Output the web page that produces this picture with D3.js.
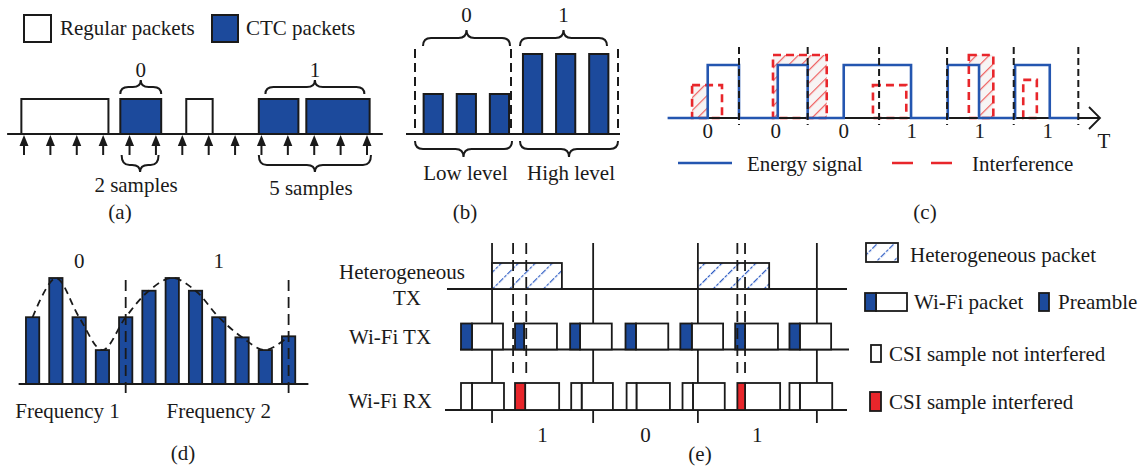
<!DOCTYPE html>
<html>
<head>
<meta charset="utf-8">
<script src="https://cdn.jsdelivr.net/npm/d3@7"></script>
<style>
  html, body { margin: 0; padding: 0; background: #fff; }
  svg { display: block; font-family: "Liberation Serif", "Times New Roman", serif; }
</style>
</head>
<body>
<div id="chart"></div>
<script>
// ---------- data ----------
// (a) packets on the sampling axis, in sample intervals
const aRegular = [[-0.1, 3.2], [6.15, 7.15]];
const aCtc = [[3.65, 5.2], [8.9, 10.4], [10.7, 13.1]];
const aSamples = [0, 1, 2, 3, 4, 5, 6, 7, 8, 9, 10, 11, 12, 13];
const aBitBraces = [["0", 3.65, 5.2], ["1", 9.15, 12.9]];
const aSampleBraces = [["2 samples", 3.7, 5.1], ["5 samples", 8.9, 13.15]];

// (b) energy levels of the CTC packets
const bLevels = [0.5, 0.5, 0.5, 1, 1, 1];
const bBits = ["0", "1"];
const bLevelNames = ["Low level", "High level"];

// (c) energy signal, slots and interference (time in slots)
const cBits = ["0", "0", "0", "1", "1", "1"];
const cSlotEdges = [1, 2.01, 3.06, 4.06, 5.04, 5.99];
const cPulses = [[0.54, 1.0], [1.57, 2.01], [2.54, 3.53], [4.07, 4.53], [5.06, 5.57]];
const cInterf = [[0.31, 0.75, 0.62], [1.5, 2.29, 1.19], [2.97, 3.46, 0.62], [4.38, 4.74, 1.19], [5.18, 5.38, 0.72]];

// (d) subcarrier amplitudes
const dAmps = [6.3, 10, 6.3, 3.2, 6.3, 8.8, 10, 8.8, 6.3, 4.4, 3.2, 4.5];
const dBounds = [4, 11];
const dBits = [["0", 2], ["1", 8]];
const dFreqs = [["Frequency 1", 1.5], ["Frequency 2", 8]];

// (e) timing (unit = Wi-Fi packet period)
const eRows = ["Heterogeneous TX", "Wi-Fi TX", "Wi-Fi RX"];
const eHetero = [[0.566, 1.84], [4.32, 5.62]];
const eBoundaries = [0.566, 2.41, 4.32, 6.49];
const eBits = ["1", "0", "1"];
const eDashPairs = [[0.95, 1.19], [5.04, 5.18]];
const eTxStart = [0, 0.985, 1.99, 3.0, 4.0, 5.0, 5.99];
const eTxPre = [0.2, 1.15, 2.17, 3.19, 4.21, 5.18, 6.18];
const eTxEnd = [0.766, 1.75, 2.75, 3.78, 4.78, 5.78, 6.75];
const eRxStart = [0, 0.985, 2.01, 3.02, 4.04, 5.04, 5.99];
const eRxCsi = [0.2, 1.17, 2.2, 3.2, 4.23, 5.18, 6.18];
const eRxEnd = [0.784, 1.79, 2.77, 3.81, 4.81, 5.82, 6.77];
const eInterfered = [false, true, false, false, false, true, false];

// ---------- drawing ----------
const W = 1145, H = 468;
const BLUE = "#1c4a9c", RED = "#e8262b", INK = "#1a1a1a", LINEBLUE = "#2456b0";
const FS = 21;

const svg = d3.select("#chart").append("svg")
  .attr("width", W).attr("height", H)
  .attr("viewBox", [0, 0, W, H]);

const defs = svg.append("defs");
const hr = defs.append("pattern").attr("id", "hatchRed")
  .attr("patternUnits", "userSpaceOnUse").attr("width", 9).attr("height", 9)
  .attr("patternTransform", "rotate(45)");
hr.append("rect").attr("width", 9).attr("height", 9).attr("fill", "#f7f4f4");
hr.append("line").attr("x1", 0).attr("y1", 0).attr("x2", 0).attr("y2", 9)
  .attr("stroke", "#ef5f5f").attr("stroke-width", 2.4);
const hb = defs.append("pattern").attr("id", "hatchBlue")
  .attr("patternUnits", "userSpaceOnUse").attr("width", 12).attr("height", 12)
  .attr("patternTransform", "rotate(45)");
hb.append("rect").attr("width", 12).attr("height", 12).attr("fill", "#fff");
hb.append("line").attr("x1", 0).attr("y1", 0).attr("x2", 0).attr("y2", 12)
  .attr("stroke", "#2d5cc4").attr("stroke-width", 2.4).attr("stroke-dasharray", "3,1.5");

// curly brace; dir -1 = tip up, +1 = tip down
function brace(x1, x2, y0, dir, h, t) {
  const ym = y0 + dir * h, tip = ym + dir * t, mid = (x1 + x2) / 2;
  const r = Math.min(8, (x2 - x1) / 4);
  return `M${x1},${y0} Q${x1},${ym} ${x1 + r},${ym} L${mid - r},${ym} Q${mid},${ym} ${mid},${tip}` +
    ` Q${mid},${ym} ${mid + r},${ym} L${x2 - r},${ym} Q${x2},${ym} ${x2},${y0}`;
}

function label(g, x, y, txt, anchor) {
  return g.append("text").attr("x", x).attr("y", y)
    .attr("text-anchor", anchor || "middle")
    .attr("font-size", FS).attr("fill", INK).text(txt);
}

// ===== (a) =====
{
  const g = svg.append("g");
  const x = d3.scaleLinear().domain([0, 13]).range([24, 367]);
  const y = d3.scaleLinear().domain([0, 1]).range([134, 99]);

  // legend
  g.append("rect").attr("x", 24).attr("y", 15).attr("width", 27).attr("height", 27)
    .attr("fill", "#fff").attr("stroke", INK).attr("stroke-width", 2);
  label(g, 60, 35, "Regular packets", "start");
  g.append("rect").attr("x", 212).attr("y", 15).attr("width", 26).attr("height", 27)
    .attr("fill", BLUE).attr("stroke", INK).attr("stroke-width", 2);
  label(g, 246, 35, "CTC packets", "start");

  g.selectAll(".reg").data(aRegular).join("rect")
    .attr("x", d => x(d[0])).attr("y", y(1))
    .attr("width", d => x(d[1]) - x(d[0])).attr("height", y(0) - y(1))
    .attr("fill", "#fff").attr("stroke", INK).attr("stroke-width", 2);
  g.selectAll(".ctc").data(aCtc).join("rect")
    .attr("x", d => x(d[0])).attr("y", y(1))
    .attr("width", d => x(d[1]) - x(d[0])).attr("height", y(0) - y(1))
    .attr("fill", BLUE).attr("stroke", INK).attr("stroke-width", 2);

  g.append("line").attr("x1", x(-0.64)).attr("x2", x(13.6)).attr("y1", y(0)).attr("y2", y(0))
    .attr("stroke", INK).attr("stroke-width", 2);

  const arr = g.selectAll(".arr").data(aSamples).join("g")
    .attr("transform", d => `translate(${x(d)},0)`);
  arr.append("line").attr("x1", 0).attr("x2", 0).attr("y1", 144).attr("y2", 155)
    .attr("stroke", INK).attr("stroke-width", 2);
  arr.append("path").attr("d", "M0,135 L-4.5,146 L4.5,146 Z").attr("fill", INK);

  aBitBraces.forEach(([t, s, e]) => {
    g.append("path").attr("d", brace(x(s), x(e), 94, -1, 7, 7))
      .attr("fill", "none").attr("stroke", INK).attr("stroke-width", 2);
    label(g, (x(s) + x(e)) / 2, 77, t);
  });
  aSampleBraces.forEach(([t, s, e], i) => {
    g.append("path").attr("d", brace(x(s), x(e), 155, 1, 10, 7))
      .attr("fill", "none").attr("stroke", INK).attr("stroke-width", 2);
    label(g, (x(s) + x(e)) / 2 - 4, 192 + i * 3, t);
  });
  label(g, 120, 219, "(a)");
}

// ===== (b) =====
{
  const g = svg.append("g");
  const x = d3.scaleBand().domain(d3.range(bLevels.length)).range([417, 615])
    .paddingInner(0.42).paddingOuter(0.2);
  const y = d3.scaleLinear().domain([0, 1]).range([134, 54]);

  g.selectAll(".bar").data(bLevels).join("rect")
    .attr("x", (d, i) => x(i)).attr("y", d => y(d))
    .attr("width", x.bandwidth()).attr("height", d => y(0) - y(d))
    .attr("fill", BLUE).attr("stroke", INK).attr("stroke-width", 2);
  g.append("line").attr("x1", 406).attr("x2", 620).attr("y1", y(0)).attr("y2", y(0))
    .attr("stroke", INK).attr("stroke-width", 2);
  [415, 511, 618].forEach(xx => {
    g.append("line").attr("x1", xx).attr("x2", xx).attr("y1", 49).attr("y2", y(0))
      .attr("stroke", INK).attr("stroke-width", 2).attr("stroke-dasharray", "9,5");
  });
  const groups = [[423, 510, 415, 512], [520, 607, 520, 618]];
  groups.forEach((gr, i) => {
    g.append("path").attr("d", brace(gr[0], gr[1], 46, -1, 8, 8))
      .attr("fill", "none").attr("stroke", INK).attr("stroke-width", 2);
    label(g, (gr[0] + gr[1]) / 2, 22, bBits[i]);
    g.append("path").attr("d", brace(gr[2], gr[3], 141, 1, 8, 8))
      .attr("fill", "none").attr("stroke", INK).attr("stroke-width", 2);
    label(g, (gr[2] + gr[3]) / 2 + 2, 180, bLevelNames[i]);
  });
  label(g, 465, 219, "(b)");
}

// ===== (c) =====
{
  const g = svg.append("g");
  const x = d3.scaleLinear().domain([0, 6]).range([671, 1079]);
  const y = d3.scaleLinear().domain([0, 1]).range([118, 65]);

  g.selectAll(".hatch").data(cInterf).join("rect")
    .attr("x", d => x(d[0])).attr("y", d => y(d[2]))
    .attr("width", d => x(d[1]) - x(d[0])).attr("height", d => y(0) - y(d[2]))
    .attr("fill", "url(#hatchRed)");
  g.selectAll(".pulseBg").data(cPulses).join("rect")
    .attr("x", d => x(d[0])).attr("y", y(1))
    .attr("width", d => x(d[1]) - x(d[0])).attr("height", y(0) - y(1))
    .attr("fill", "#fff");
  g.selectAll(".interf").data(cInterf).join("rect")
    .attr("x", d => x(d[0])).attr("y", d => y(d[2]))
    .attr("width", d => x(d[1]) - x(d[0])).attr("height", d => y(0) - y(d[2]))
    .attr("fill", "none").attr("stroke", RED).attr("stroke-width", 2.6)
    .attr("stroke-dasharray", "8,5");

  g.append("line").attr("x1", 668).attr("x2", 1100).attr("y1", y(0)).attr("y2", y(0))
    .attr("stroke", INK).attr("stroke-width", 1.8);
  g.append("path").attr("d", `M1089,107 L1100,${y(0)} L1089,129`)
    .attr("fill", "none").attr("stroke", INK).attr("stroke-width", 1.8);

  const pts = [[-0.05, 0]];
  cPulses.forEach(([s, e]) => { pts.push([s, 0], [s, 1], [e, 1], [e, 0]); });
  pts.push([6.0, 0]);
  g.append("path").attr("d", d3.line().x(d => x(d[0])).y(d => y(d[1]))(pts))
    .attr("fill", "none").attr("stroke", LINEBLUE).attr("stroke-width", 2.6);

  g.selectAll(".edge").data(cSlotEdges).join("line")
    .attr("x1", d => x(d)).attr("x2", d => x(d)).attr("y1", 47).attr("y2", 125)
    .attr("stroke", INK).attr("stroke-width", 2).attr("stroke-dasharray", "7,4");

  cBits.forEach((b, i) => label(g, x(i + 0.54), 138, b));
  label(g, 1104, 148, "T");

  g.append("line").attr("x1", 678).attr("x2", 732).attr("y1", 163).attr("y2", 163)
    .attr("stroke", LINEBLUE).attr("stroke-width", 2.6);
  label(g, 747, 171, "Energy signal", "start");
  g.append("line").attr("x1", 892).attr("x2", 953).attr("y1", 163).attr("y2", 163)
    .attr("stroke", RED).attr("stroke-width", 2.6).attr("stroke-dasharray", "21,18");
  label(g, 972, 171, "Interference", "start");
  label(g, 925, 219, "(c)");
}

// ===== (d) =====
{
  const g = svg.append("g");
  const x = d3.scaleLinear().domain([0, 11]).range([32.6, 288.6]);
  const y = d3.scaleLinear().domain([0, 10]).range([384, 278]);
  const bw = 13.3;

  g.selectAll(".bar").data(dAmps).join("rect")
    .attr("x", (d, i) => x(i) - bw / 2).attr("y", d => y(d))
    .attr("width", bw).attr("height", d => y(0) - y(d))
    .attr("fill", BLUE).attr("stroke", INK).attr("stroke-width", 1.8);
  g.append("line").attr("x1", x(-0.6)).attr("x2", x(11.85)).attr("y1", y(0)).attr("y2", y(0))
    .attr("stroke", INK).attr("stroke-width", 2);
  g.append("path")
    .attr("d", d3.line().x((d, i) => x(i)).y(d => y(d)).curve(d3.curveCatmullRom)(dAmps))
    .attr("fill", "none").attr("stroke", INK).attr("stroke-width", 1.8)
    .attr("stroke-dasharray", "7,5");
  dBounds.forEach(b => {
    g.append("line").attr("x1", x(b)).attr("x2", x(b)).attr("y1", 280).attr("y2", 395)
      .attr("stroke", INK).attr("stroke-width", 1.8).attr("stroke-dasharray", "11,6");
  });
  dBits.forEach(([t, i]) => label(g, x(i), 268, t));
  dFreqs.forEach(([t, i]) => label(g, x(i), 418, t));
  label(g, 183, 460, "(d)");
}

// ===== (e) =====
{
  const g = svg.append("g");
  const x = d3.scaleLinear().domain([0, 6]).range([461, 790]);
  const rowY = d3.scalePoint().domain(eRows).range([289, 410]);
  const yH = rowY("Heterogeneous TX"), yT = rowY("Wi-Fi TX"), yR = rowY("Wi-Fi RX");

  label(g, 402, 279, "Heterogeneous");
  label(g, 407, 305, "TX");
  label(g, 390, 344, "Wi-Fi TX");
  label(g, 390, 408, "Wi-Fi RX");

  g.selectAll(".bound").data(eBoundaries).join("line")
    .attr("x1", d => x(d)).attr("x2", d => x(d)).attr("y1", 243).attr("y2", 423)
    .attr("stroke", INK).attr("stroke-width", 1.8);

  g.append("line").attr("x1", 447).attr("x2", 847).attr("y1", yH).attr("y2", yH)
    .attr("stroke", INK).attr("stroke-width", 1.8);
  g.append("line").attr("x1", 460).attr("x2", 849).attr("y1", yT).attr("y2", yT)
    .attr("stroke", INK).attr("stroke-width", 1.8);
  g.append("line").attr("x1", 445).attr("x2", 847).attr("y1", yR).attr("y2", yR)
    .attr("stroke", INK).attr("stroke-width", 1.8);

  g.selectAll(".het").data(eHetero).join("rect")
    .attr("x", d => x(d[0])).attr("y", yH - 26)
    .attr("width", d => x(d[1]) - x(d[0])).attr("height", 26)
    .attr("fill", "url(#hatchBlue)").attr("stroke", INK).attr("stroke-width", 1.8);

  // Wi-Fi TX packets
  eTxStart.forEach((s, i) => {
    g.append("rect").attr("x", x(eTxPre[i])).attr("y", yT - 26)
      .attr("width", x(eTxEnd[i]) - x(eTxPre[i])).attr("height", 26)
      .attr("fill", "#fff").attr("stroke", INK).attr("stroke-width", 1.8);
    g.append("rect").attr("x", x(s)).attr("y", yT - 26)
      .attr("width", x(eTxPre[i]) - x(s)).attr("height", 26)
      .attr("fill", BLUE).attr("stroke", INK).attr("stroke-width", 1.8);
  });
  // Wi-Fi RX packets
  eRxStart.forEach((s, i) => {
    g.append("rect").attr("x", x(eRxCsi[i])).attr("y", yR - 27)
      .attr("width", x(eRxEnd[i]) - x(eRxCsi[i])).attr("height", 27)
      .attr("fill", "#fff").attr("stroke", INK).attr("stroke-width", 1.8);
    g.append("rect").attr("x", x(s)).attr("y", yR - 27)
      .attr("width", x(eRxCsi[i]) - x(s)).attr("height", 27)
      .attr("fill", eInterfered[i] ? RED : "#fff").attr("stroke", INK).attr("stroke-width", 1.8);
  });

  eDashPairs.forEach(p => p.forEach(v => {
    g.append("line").attr("x1", x(v)).attr("x2", x(v)).attr("y1", 243).attr("y2", 378)
      .attr("stroke", INK).attr("stroke-width", 1.8).attr("stroke-dasharray", "11,6");
  }));

  eBits.forEach((b, i) => {
    label(g, (x(eBoundaries[i]) + x(eBoundaries[i + 1])) / 2, 442, b);
  });
  label(g, 700, 461, "(e)");

  // legend
  g.append("rect").attr("x", 866).attr("y", 243).attr("width", 32).attr("height", 19)
    .attr("fill", "url(#hatchBlue)").attr("stroke", INK).attr("stroke-width", 1.8);
  label(g, 910, 262, "Heterogeneous packet", "start");
  g.append("rect").attr("x", 876).attr("y", 293).attr("width", 31).attr("height", 18)
    .attr("fill", "#fff").attr("stroke", INK).attr("stroke-width", 1.8);
  g.append("rect").attr("x", 865).attr("y", 293).attr("width", 11).attr("height", 18)
    .attr("fill", BLUE).attr("stroke", INK).attr("stroke-width", 1.8);
  label(g, 914, 309, "Wi-Fi packet", "start");
  g.append("rect").attr("x", 1039).attr("y", 293).attr("width", 10).attr("height", 18)
    .attr("fill", BLUE).attr("stroke", INK).attr("stroke-width", 1.8);
  label(g, 1058, 309, "Preamble", "start");
  g.append("rect").attr("x", 871).attr("y", 345).attr("width", 10).attr("height", 17)
    .attr("fill", "#fff").attr("stroke", INK).attr("stroke-width", 1.8);
  label(g, 889, 361, "CSI sample not interfered", "start");
  g.append("rect").attr("x", 870).attr("y", 392).attr("width", 11).attr("height", 19)
    .attr("fill", RED).attr("stroke", INK).attr("stroke-width", 1.8);
  label(g, 889, 409, "CSI sample interfered", "start");
}
</script>
</body>
</html>
